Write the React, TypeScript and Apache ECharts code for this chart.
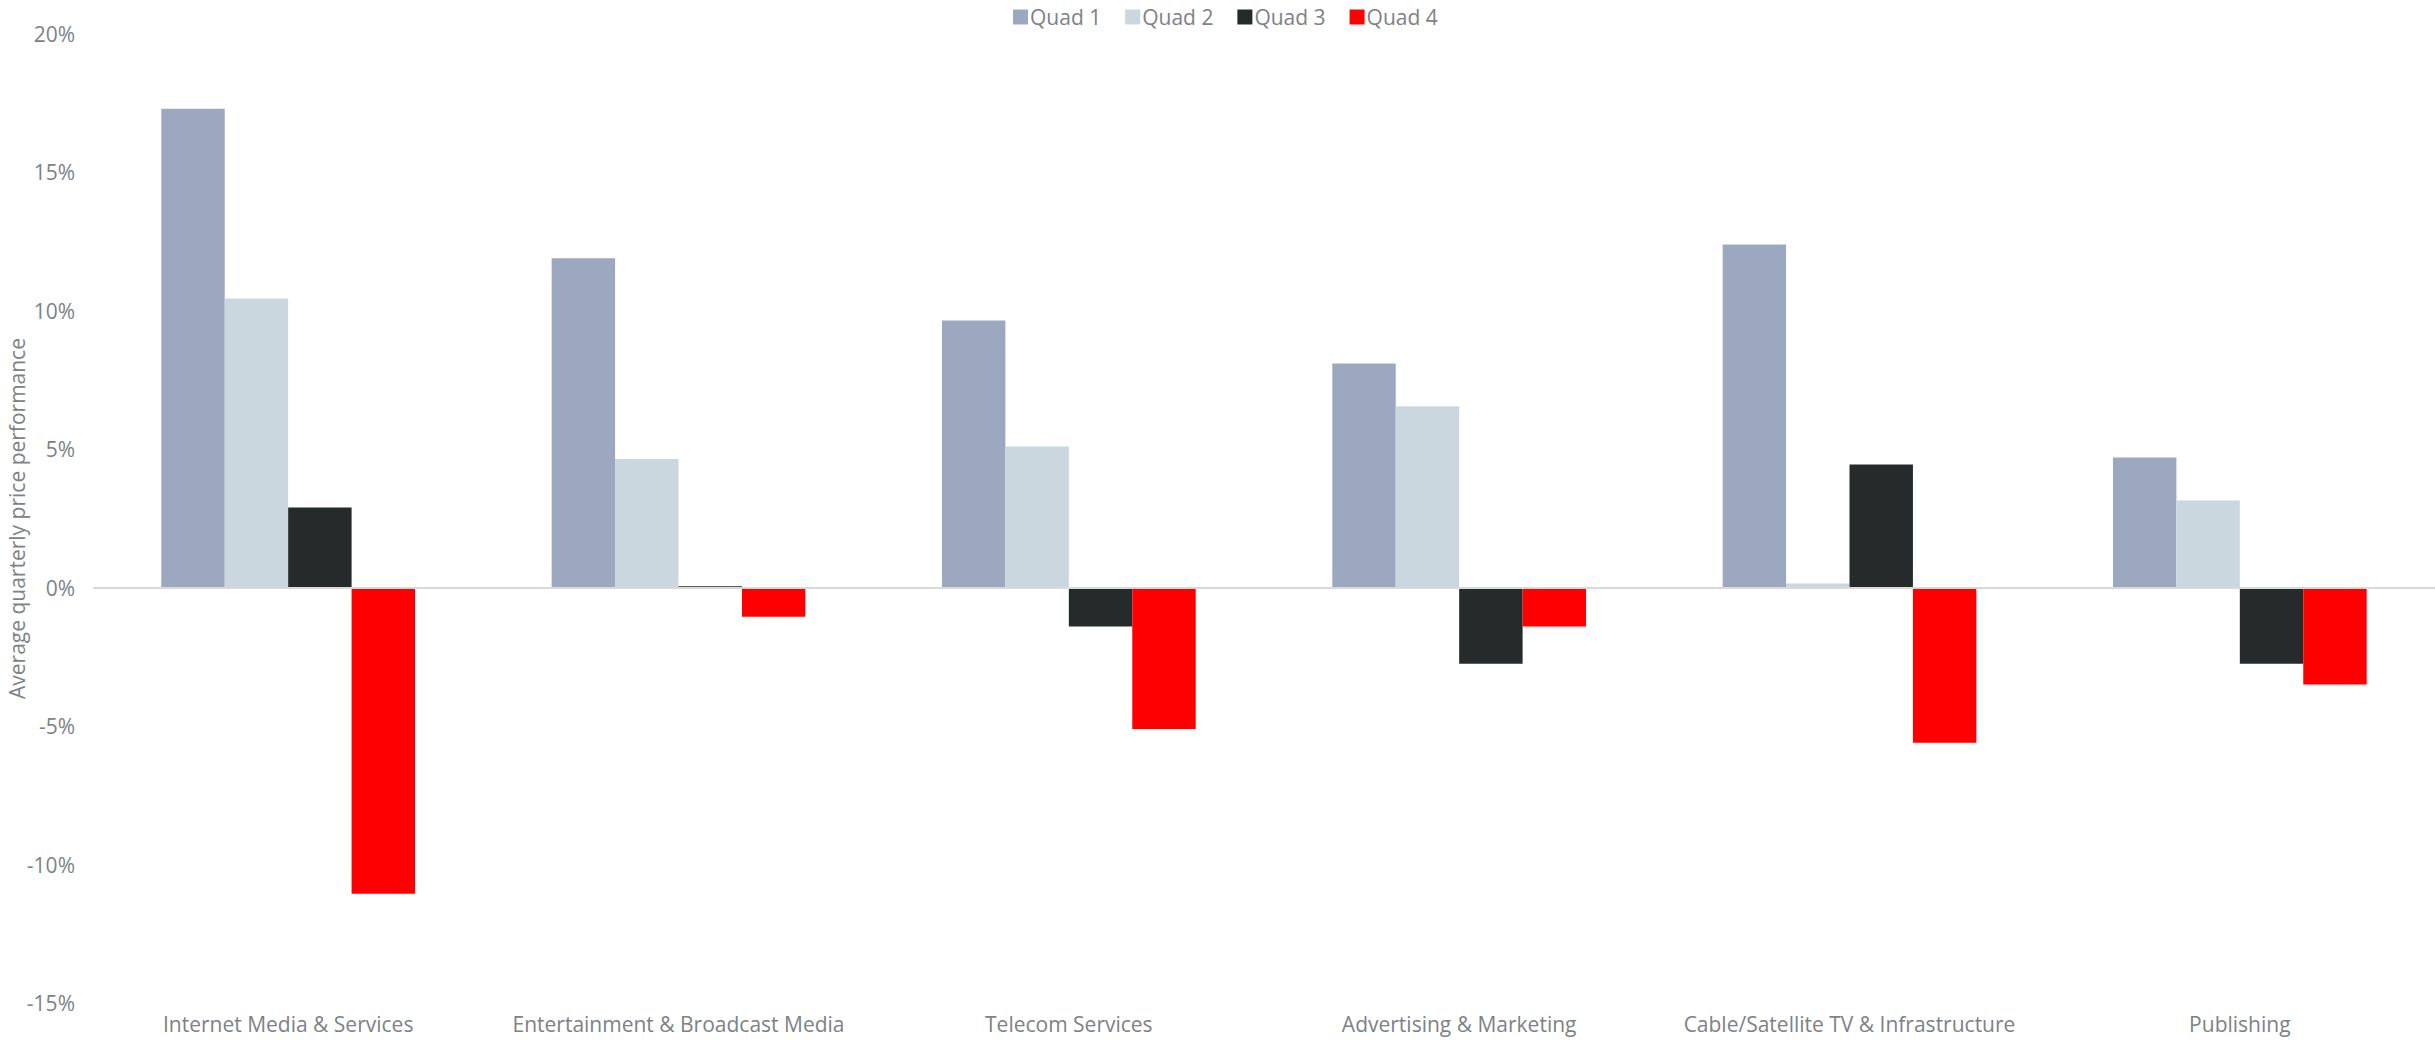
import React, { useEffect, useRef } from "react";
import * as echarts from "echarts";

const categories = [
  "Internet Media & Services",
  "Entertainment & Broadcast Media",
  "Telecom Services",
  "Advertising & Marketing",
  "Cable/Satellite TV & Infrastructure",
  "Publishing",
];
const quad1 = [17.3, 11.9, 9.65, 8.1, 12.4, 4.7];
const quad2 = [10.45, 4.65, 5.1, 6.55, 0.15, 3.15];
const quad3 = [2.9, 0.05, -1.4, -2.75, 4.45, -2.75];
const quad4 = [-11.05, -1.05, -5.1, -1.4, -5.6, -3.5];
const seriesNames = ["Quad 1", "Quad 2", "Quad 3", "Quad 4"];
const seriesColors = ["#9ca8c0", "#cad7df", "#252a2b", "#ff0000"];
const yTicks = { min: -15, max: 20, interval: 5 };

const FONT = "Open Sans";
const TEXT = "#7d8286";

export default function App() {
  const ref = useRef<HTMLDivElement>(null);
  useEffect(() => {
    if (!ref.current) return;
    const chart = echarts.init(ref.current, undefined, { renderer: "svg" });
    const data = [quad1, quad2, quad3, quad4];
    chart.setOption({
      animation: false,
      backgroundColor: "#ffffff",
      textStyle: { fontFamily: FONT },
      legend: {
        top: 0,
        left: 1008,
        itemWidth: 15,
        itemHeight: 15,
        itemGap: 24,
        icon: "rect",
        textStyle: { fontFamily: FONT, fontSize: 21, color: TEXT, padding: [0, 0, 0, -3], lineHeight: 24 },
        data: seriesNames,
      },
      grid: { left: 93, right: 0, top: 34, bottom: 37, containLabel: false, outerBoundsMode: "none" },
      xAxis: {
        type: "category",
        data: categories,
        axisLine: { show: false, onZero: false },
        axisTick: { show: false },
        axisLabel: { fontFamily: FONT, fontSize: 21, lineHeight: 21, color: TEXT, margin: 10, interval: 0 },
      },
      yAxis: {
        type: "value",
        min: yTicks.min,
        max: yTicks.max,
        interval: yTicks.interval,
        name: "Average quarterly price performance",
        nameLocation: "middle",
        nameGap: 66,
        nameMoveOverlap: false,
        nameRotate: 90,
        nameTextStyle: { fontFamily: FONT, fontSize: 21, lineHeight: 20, color: TEXT },
        axisLine: { show: false },
        axisTick: { show: false },
        splitLine: { show: false },
        axisLabel: {
          fontFamily: FONT,
          fontSize: 21,
          color: TEXT,
          margin: 18,
          formatter: (v: number) => `${v}%`,
        },
      },
      series: data.map((d, i) => ({
        name: seriesNames[i],
        type: "bar",
        data: d,
        barGap: "0%",
        barCategoryGap: "35%",
        itemStyle: { color: seriesColors[i] },
        ...(i === 0
          ? {
              markLine: {
                silent: true,
                symbol: "none",
                label: { show: false },
                lineStyle: { color: "#d9d9d9", width: 2, type: "solid" },
                data: [{ yAxis: 0 }],
              },
            }
          : {}),
      })),
    });
    return () => chart.dispose();
  }, []);
  return (
    <div
      ref={ref}
      style={{ position: "fixed", left: 0, top: 0, width: 2435, height: 1040 }}
    />
  );
}
